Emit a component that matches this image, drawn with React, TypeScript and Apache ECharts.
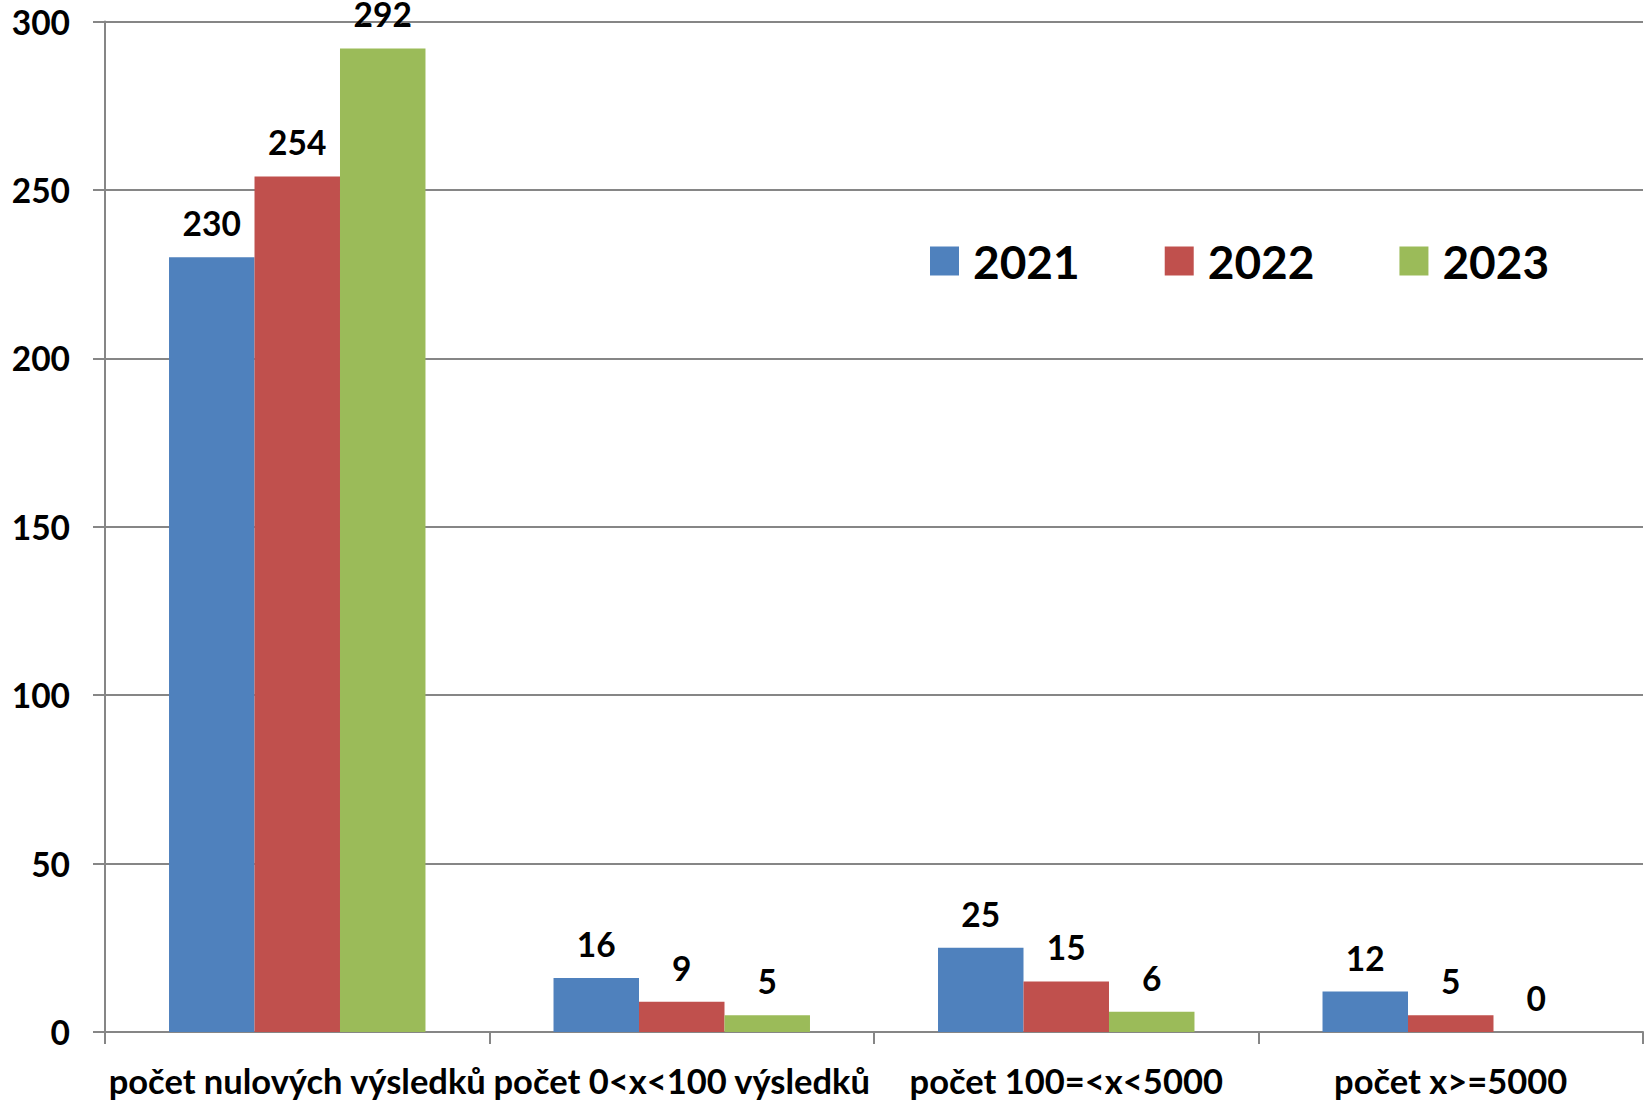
import React, { useEffect, useRef } from "react";
import * as echarts from "echarts";

const categories = [
  "počet nulových výsledků",
  "počet 0<x<100 výsledků",
  "počet 100=<x<5000",
  "počet x>=5000",
];
const seriesNames = ["2021", "2022", "2023"];
const values2021 = [230, 16, 25, 12];
const values2022 = [254, 9, 15, 5];
const values2023 = [292, 5, 6, 0];
const colors = ["#4F81BD", "#C0504D", "#9BBB59"];
const yTicks = { min: 0, max: 300, interval: 50 };

const FONT = "Lato";

export default function App() {
  const ref = useRef<HTMLDivElement>(null);
  useEffect(() => {
    const chart = echarts.init(ref.current!, null, { renderer: "svg" });
    const data = [values2021, values2022, values2023];
    chart.setOption({
      animation: false,
      textStyle: { fontFamily: FONT },
      grid: { left: 105, right: 3, top: 21.5, bottom: 68, containLabel: false },
      legend: {
        data: seriesNames,
        left: 925,
        top: 233,
        itemWidth: 29,
        itemHeight: 29,
        itemGap: 85,
        icon: "rect",
        textStyle: { fontFamily: FONT, fontWeight: "bold", fontSize: 46, color: "#000", padding: [0, 0, 0, 9] },
      },
      xAxis: {
        type: "category",
        data: categories,
        axisLine: { lineStyle: { color: "#868686", width: 2 } },
        axisTick: { show: true, length: 12, lineStyle: { color: "#868686", width: 2 } },
        axisLabel: {
          fontFamily: FONT,
          fontWeight: "bold",
          fontSize: 34.5,
          color: "#000",
          margin: 31,
          interval: 0,
        },
      },
      yAxis: {
        type: "value",
        min: yTicks.min,
        max: yTicks.max,
        interval: yTicks.interval,
        axisLine: { show: true, lineStyle: { color: "#868686", width: 2 } },
        axisTick: { show: true, length: 12, lineStyle: { color: "#868686", width: 2 } },
        splitLine: { lineStyle: { color: "#868686", width: 2 } },
        axisLabel: {
          fontFamily: FONT,
          fontWeight: "bold",
          fontSize: 33.5,
          color: "#000",
          margin: 35,
        },
      },
      series: seriesNames.map((name, i) => ({
        name,
        type: "bar",
        data: data[i],
        barGap: "0%",
        barCategoryGap: "33.3%",
        itemStyle: { color: colors[i] },
        label: {
          show: true,
          position: "top",
          distance: 17,
          fontFamily: FONT,
          fontWeight: "bold",
          fontSize: 33.5,
          color: "#000",
        },
      })),
    });
    return () => chart.dispose();
  }, []);
  return <div ref={ref} style={{ width: 1646, height: 1100, position: "absolute", left: 0, top: 0 }} />;
}
